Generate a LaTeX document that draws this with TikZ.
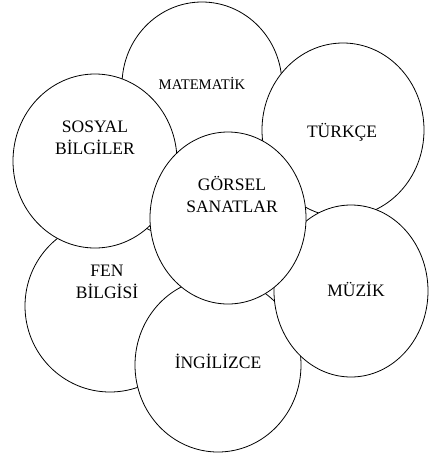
\documentclass[tikz,border=0pt]{standalone}
\usepackage{fontspec}
\setmainfont{Liberation Serif}
\usetikzlibrary{shapes.geometric}
\begin{document}
\begin{tikzpicture}[x=1pt,y=-1pt,
  disc/.style={ellipse, draw=black, fill=white, line width=0.8pt, inner sep=0pt},
  lbl/.style={font=\fontsize{17.5}{22}\selectfont, align=center, text height=11.6pt, text depth=0pt, inner sep=0pt},
  lblsmall/.style={font=\fontsize{14.7}{18}\selectfont, align=center, text height=9.7pt, text depth=0pt, inner sep=0pt}]
\useasboundingbox (0,0) rectangle (430,456);
% bottom layer first
\node[disc, minimum width=160pt, minimum height=166pt] (mat) at (202,85) {};
\node[lblsmall] (matt) at (202,85) {MATEMATİK};
\node[disc, minimum width=170pt, minimum height=172pt] (fen) at (110,306) {};
\node[lbl] (fent) at (107,293) {FEN\\BİLGİSİ};
\node[disc, minimum width=162pt, minimum height=174pt] (tur) at (343,130) {};
\node[lbl] (turt) at (342,132) {TÜRKÇE};
\node[disc, minimum width=164pt, minimum height=174pt] (sos) at (95,161) {};
\node[lbl] (sost) at (95,149) {SOSYAL\\BİLGİLER};
\node[disc, minimum width=166pt, minimum height=174pt] (ing) at (218,365) {};
\node[lbl] (ingt) at (218,363) {İNGİLİZCE};
\node[disc, minimum width=154pt, minimum height=172pt] (muz) at (351,291) {};
\node[lbl] (muzt) at (356,291) {MÜZİK};
\node[disc, minimum width=156pt, minimum height=172pt] (gor) at (228,218) {};
\node[lbl] (gort) at (232,207) {GÖRSEL\\SANATLAR};
\end{tikzpicture}
\end{document}
